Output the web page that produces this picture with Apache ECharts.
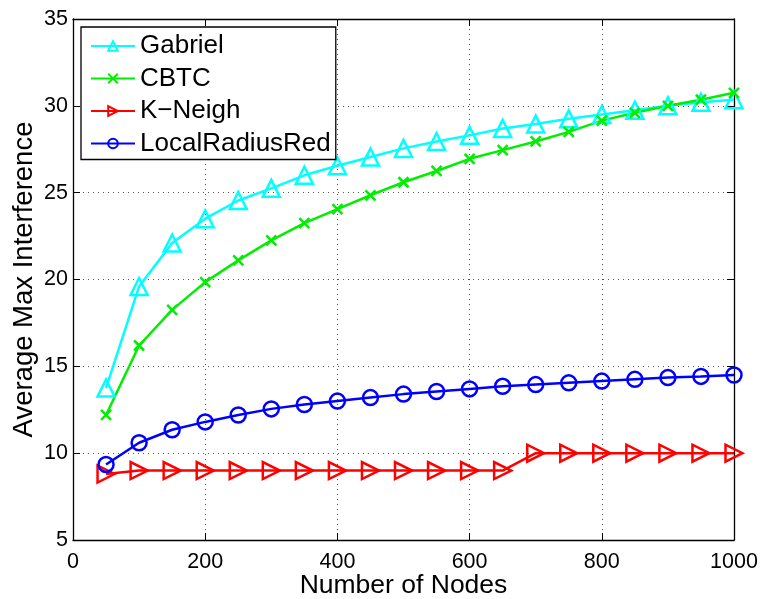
<!DOCTYPE html>
<html>
<head>
<meta charset="utf-8">
<script src="https://cdn.jsdelivr.net/npm/echarts@6/dist/echarts.min.js"></script>
<style>
  html, body { margin: 0; padding: 0; background: #fff; }
  #chart { width: 763px; height: 599px; }
</style>
</head>
<body>
<div id="chart"></div>
<script>
// Network size (number of nodes)
const nodes = [50, 100, 150, 200, 250, 300, 350, 400, 450, 500, 550, 600, 650, 700, 750, 800, 850, 900, 950, 1000];

// Average maximum interference per topology control algorithm
const gabriel = [13.75, 19.6, 22.1, 23.5, 24.55, 25.25, 26.0, 26.55, 27.05, 27.55, 27.95, 28.3, 28.7, 28.95, 29.25, 29.5, 29.75, 30.0, 30.2, 30.35];
const cbtc = [12.2, 16.2, 18.25, 19.85, 21.1, 22.25, 23.25, 24.05, 24.85, 25.6, 26.25, 26.95, 27.45, 27.95, 28.5, 29.15, 29.6, 30.0, 30.35, 30.75];
const kNeigh = [8.8, 9, 9, 9, 9, 9, 9, 9, 9, 9, 9, 9, 9, 10, 10, 10, 10, 10, 10, 10];
const localRadiusRed = [9.35, 10.6, 11.35, 11.8, 12.2, 12.55, 12.8, 13.0, 13.2, 13.4, 13.55, 13.7, 13.85, 13.95, 14.05, 14.15, 14.25, 14.35, 14.42, 14.5];

const seriesNames = ['Gabriel', 'CBTC', 'K\u2212Neigh', 'LocalRadiusRed'];
const xTicks = [0, 200, 400, 600, 800, 1000];
const yTicks = [5, 10, 15, 20, 25, 30, 35];

const FONT = 'Liberation Sans, Arial, Helvetica, sans-serif';
const crossPath = 'path://M0,0L10,10M10,0L0,10';

function pairs(ys) { return nodes.map((x, i) => [x, ys[i]]); }

function lineSeries(name, ys, color, symbol, size, rotate) {
  return {
    name: name,
    type: 'line',
    data: pairs(ys),
    symbol: symbol,
    symbolSize: size,
    symbolRotate: rotate || 0,
    showAllSymbol: true,
    color: color,
    lineStyle: { color: color, width: 2.5 },
    itemStyle: { color: 'rgba(255,255,255,0)', borderColor: color, borderWidth: 2.5 },
    emphasis: { disabled: true },
    animation: false,
    z: 3
  };
}

const axisCommon = {
  type: 'value',
  axisLine: { show: true, onZero: false, lineStyle: { color: '#000', width: 1.3 } },
  axisTick: { show: true, inside: true, length: 7, lineStyle: { color: '#000', width: 1 } },
  splitLine: { show: false }
};

const gridLine = { show: true, lineStyle: { color: '#555', type: [1, 4], width: 1 } };

const chart = echarts.init(document.getElementById('chart'), null, { renderer: 'canvas' });

chart.setOption({
  backgroundColor: '#fff',
  animation: false,
  grid: { left: 73, right: 29, top: 19, bottom: 59, containLabel: false, outerBoundsMode: 'none' },
  legend: {
    data: seriesNames,
    orient: 'vertical',
    left: 81,
    top: 27,
    itemWidth: 44,
    itemHeight: 12,
    itemGap: 6.5,
    padding: [6, 5, 3, 9],
    backgroundColor: '#fff',
    borderColor: '#000',
    borderWidth: 1.3,
    borderRadius: 0,
    textStyle: { fontFamily: FONT, fontSize: 26, color: '#000', lineHeight: 26 },
    selectedMode: false
  },
  xAxis: [
    Object.assign({}, axisCommon, {
      min: 0, max: 1000, interval: 200,
      position: 'bottom',
      name: 'Number of Nodes',
      nameLocation: 'middle',
      nameGap: 32,
      nameMoveOverlap: false,
      nameTextStyle: { fontFamily: FONT, fontSize: 26.5, color: '#000' },
      axisLabel: { fontFamily: FONT, fontSize: 21.5, color: '#000', margin: 11,
        formatter: v => xTicks.includes(v) ? String(v) : '' },
      splitLine: gridLine
    }),
    Object.assign({}, axisCommon, {
      min: 0, max: 1000, interval: 200,
      position: 'top',
      axisLabel: { show: false }
    })
  ],
  yAxis: [
    Object.assign({}, axisCommon, {
      min: 5, max: 35, interval: 5,
      position: 'left',
      name: 'Average Max Interference',
      nameLocation: 'middle',
      nameGap: 35,
      nameMoveOverlap: false,
      nameTextStyle: { fontFamily: FONT, fontSize: 27.5, color: '#000' },
      axisLabel: { fontFamily: FONT, fontSize: 21.5, color: '#000', margin: 5,
        formatter: v => yTicks.includes(v) ? String(v) : '' },
      splitLine: gridLine
    }),
    Object.assign({}, axisCommon, {
      min: 5, max: 35, interval: 5,
      position: 'right',
      axisLabel: { show: false }
    })
  ],
  series: [
    lineSeries(seriesNames[0], gabriel, '#00FFFF', 'triangle', 17, 0),
    lineSeries(seriesNames[1], cbtc, '#00EE00', crossPath, 10, 0),
    lineSeries(seriesNames[2], kNeigh, '#FF0000', 'triangle', 17, -90),
    lineSeries(seriesNames[3], localRadiusRed, '#0000FF', 'circle', 15, 0)
  ]
});
</script>
</body>
</html>
